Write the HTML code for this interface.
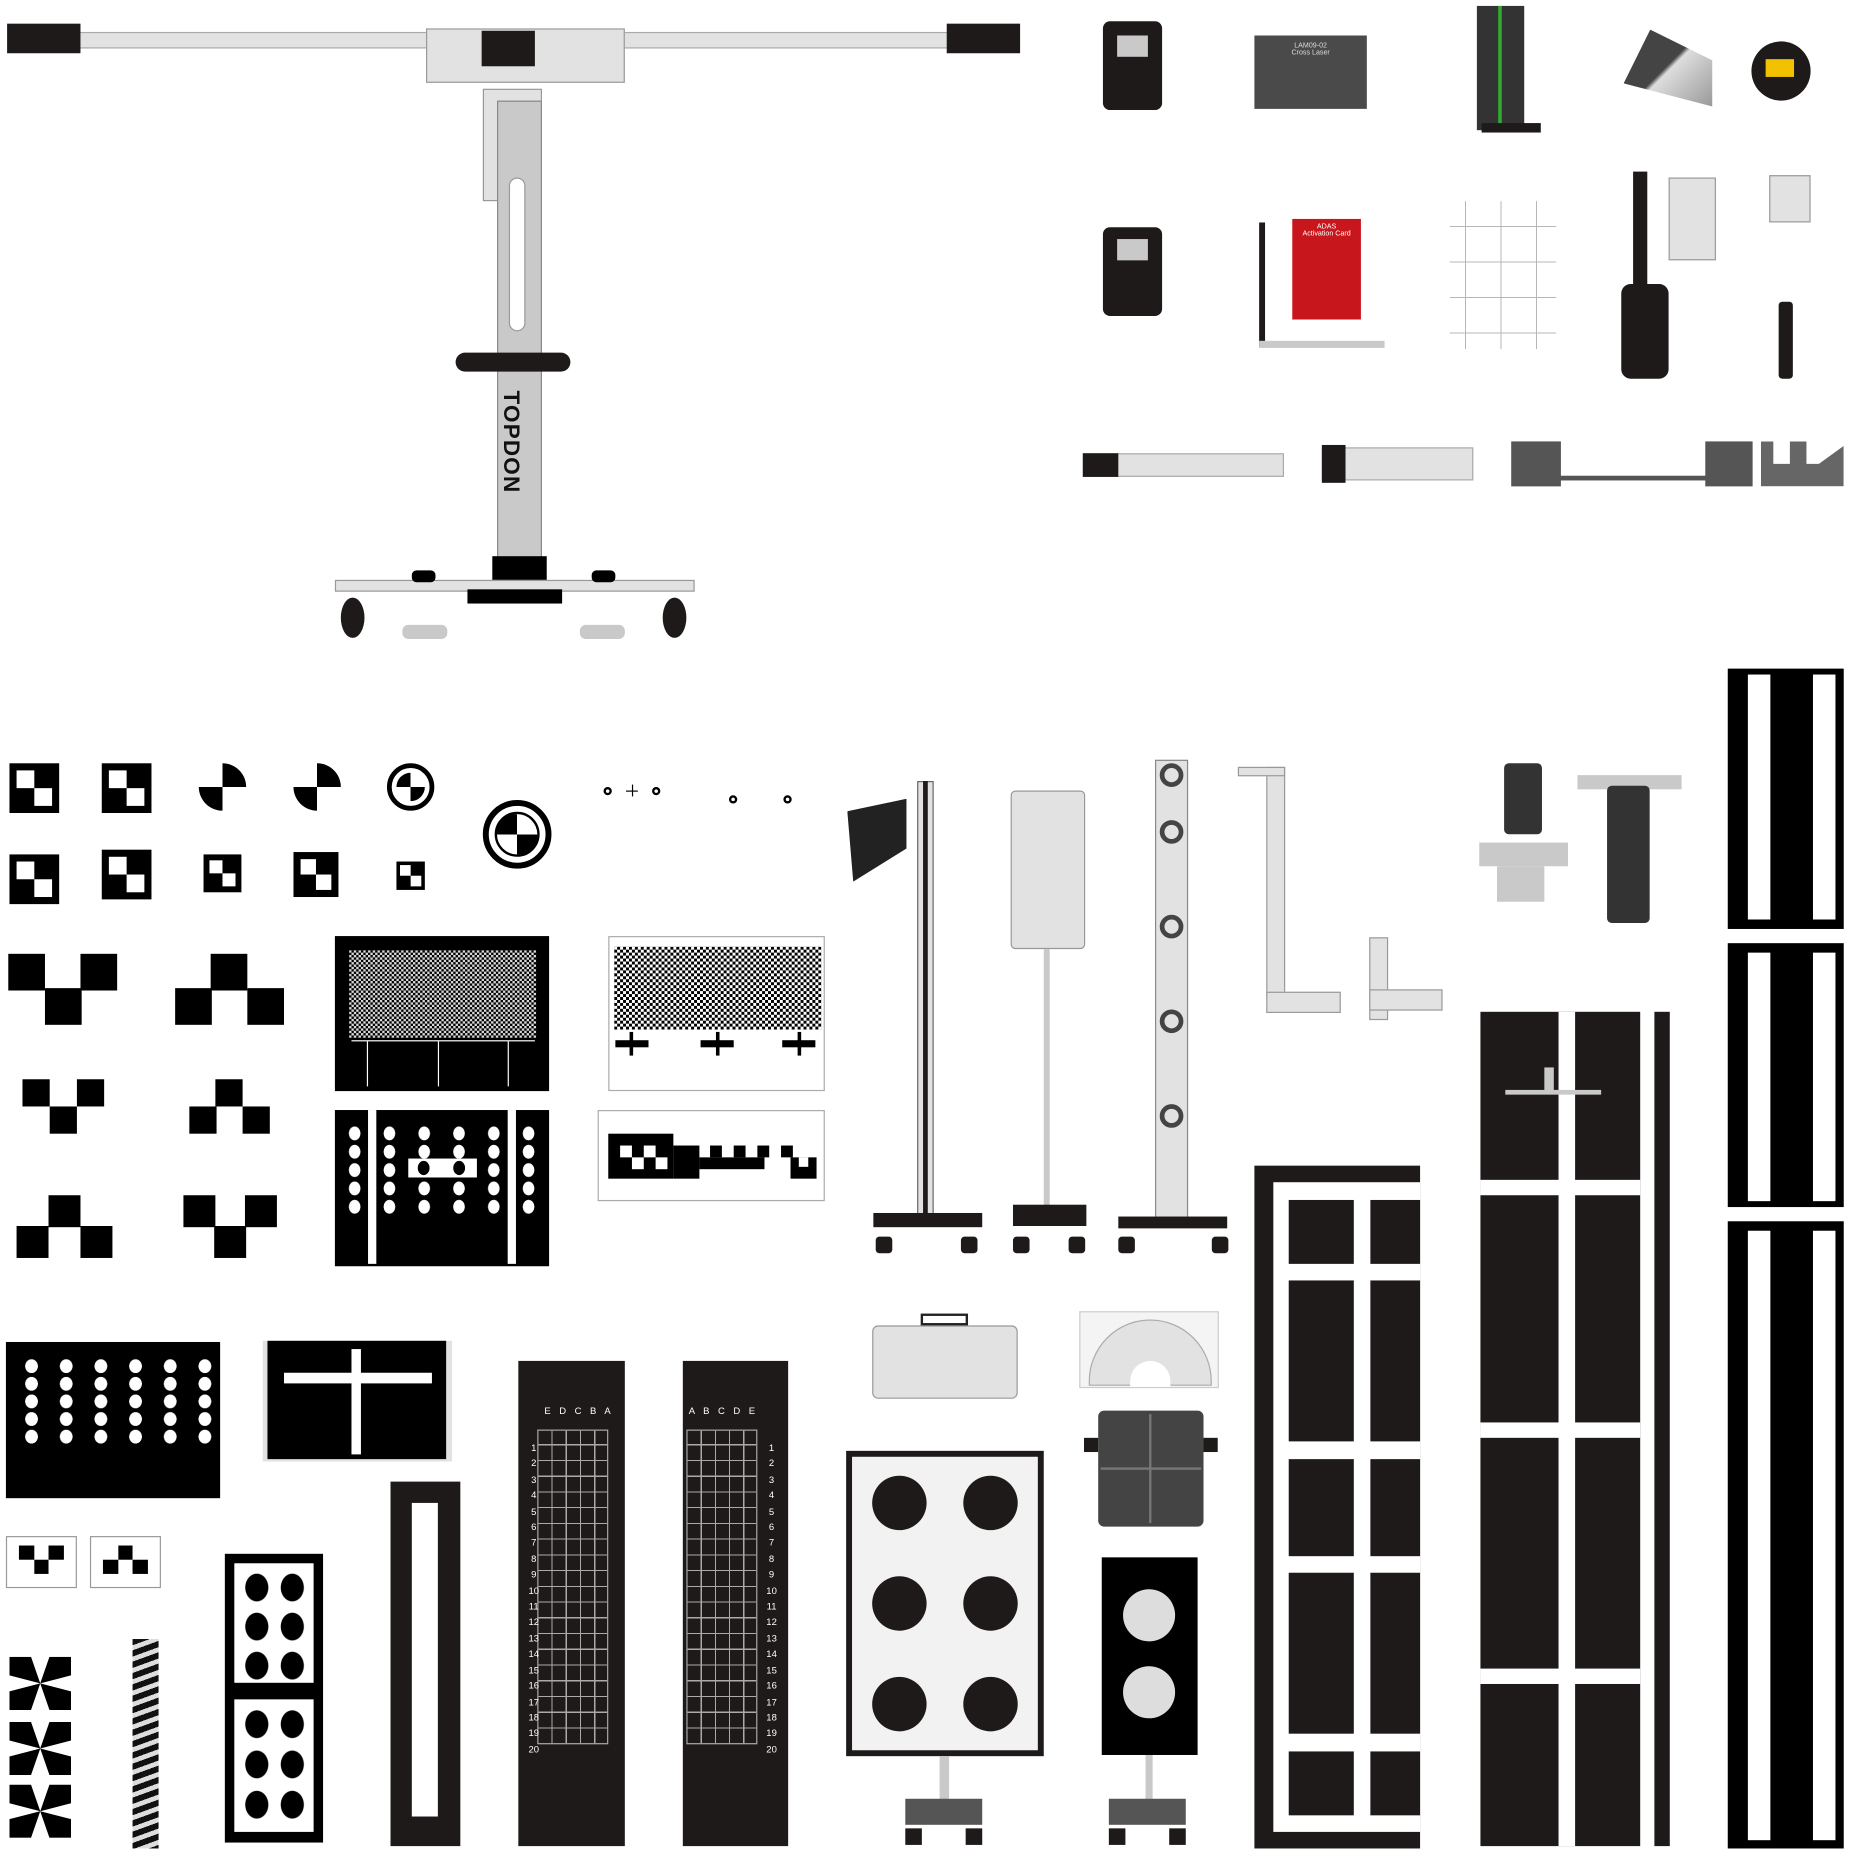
<!DOCTYPE html>
<html><head><meta charset="utf-8"><style>
html,body{margin:0;padding:0;background:#fff;overflow:hidden}
#w{position:absolute;left:0;top:0;width:1565px;height:1569px;transform:scale(1.1834);transform-origin:0 0;font-family:"Liberation Sans",sans-serif}
#w div{position:absolute;box-sizing:border-box}
.k{background:#000}.d{background:#1e1a1a}.g{background:#c9c9c9}.lg{background:#e2e2e2}.w{background:#fff}
.c{border-radius:50%}
.noise{background:repeating-conic-gradient(#000 0 25%,#fff 0 50%) 0 0/4px 4px}
.noise2{background:repeating-conic-gradient(#000 0 25%,#fff 0 50%) 0 0/5px 5px}
.q{border-radius:50%;background:conic-gradient(#000 0 25%,transparent 0 50%,#000 0 75%,transparent 0)}
</style></head><body><div id="w">

<!-- big stand -->
<div class="lg" style="left:60px;top:27px;width:750px;height:14px;border:1px solid #aaa"></div>
<div class="d" style="left:6px;top:20px;width:62px;height:25px"></div>
<div class="d" style="left:800px;top:20px;width:62px;height:25px"></div>
<div class="lg" style="left:360px;top:24px;width:168px;height:46px;border:1px solid #999"></div>
<div class="d" style="left:407px;top:26px;width:45px;height:30px"></div>
<div class="lg" style="left:408px;top:75px;width:50px;height:95px;border:1px solid #999"></div>
<div class="g" style="left:420px;top:85px;width:38px;height:405px;border:1px solid #888"></div>
<div class="w" style="left:430px;top:150px;width:14px;height:130px;border-radius:7px;border:1px solid #999"></div>
<div class="d" style="left:385px;top:298px;width:97px;height:16px;border-radius:8px"></div>
<div style="left:422px;top:330px;width:20px;height:120px;color:#111;font-weight:bold;font-size:19px;writing-mode:vertical-rl;letter-spacing:1px">TOPDON</div>
<div class="k" style="left:416px;top:470px;width:46px;height:38px"></div>
<div class="lg" style="left:283px;top:490px;width:304px;height:10px;border:1px solid #999"></div>
<div class="k" style="left:395px;top:498px;width:80px;height:12px"></div>
<div class="d c" style="left:288px;top:505px;width:20px;height:34px"></div>
<div class="d c" style="left:560px;top:505px;width:20px;height:34px"></div>
<div class="g" style="left:340px;top:528px;width:38px;height:12px;border-radius:5px"></div>
<div class="g" style="left:490px;top:528px;width:38px;height:12px;border-radius:5px"></div>
<div class="k" style="left:348px;top:482px;width:20px;height:10px;border-radius:4px"></div>
<div class="k" style="left:500px;top:482px;width:20px;height:10px;border-radius:4px"></div>

<!-- top right products -->
<div class="d" style="left:932px;top:18px;width:50px;height:75px;border-radius:6px"></div>
<div class="g" style="left:944px;top:30px;width:26px;height:18px"></div>
<div class="d" style="left:932px;top:192px;width:50px;height:75px;border-radius:6px"></div>
<div class="g" style="left:944px;top:202px;width:26px;height:18px"></div>
<div style="left:1060px;top:30px;width:95px;height:62px;background:#4a4a4a;color:#ddd;font-size:6px;text-align:center;padding-top:6px">LAM09-02<br>Cross Laser</div>
<div style="left:1248px;top:5px;width:40px;height:105px;background:#333"></div>
<div style="left:1266px;top:5px;width:3px;height:105px;background:#3a3"></div>
<div class="d" style="left:1252px;top:104px;width:50px;height:8px"></div>
<div style="left:1372px;top:25px;width:75px;height:65px;background:linear-gradient(135deg,#444 0 48%,#ddd 52%,#999);clip-path:polygon(30% 0,100% 40%,100% 100%,0 70%)"></div>
<div class="d c" style="left:1480px;top:35px;width:50px;height:50px"></div>
<div style="left:1492px;top:50px;width:24px;height:15px;background:#f2c200"></div>
<div style="left:1092px;top:185px;width:58px;height:85px;background:#c8161d;color:#fff;font-size:6px;text-align:center;padding-top:4px">ADAS<br>Activation Card</div>
<div class="d" style="left:1064px;top:188px;width:5px;height:105px"></div>
<div class="g" style="left:1064px;top:288px;width:106px;height:6px"></div>
<div style="left:1225px;top:170px;width:90px;height:125px;background:repeating-linear-gradient(90deg,transparent 0 13px,#888 13px 14px,transparent 14px 30px),repeating-linear-gradient(0deg,transparent 0 13px,#888 13px 14px,transparent 14px 30px);opacity:.6"></div>
<div class="d" style="left:1380px;top:145px;width:12px;height:150px"></div>
<div class="lg" style="left:1410px;top:150px;width:40px;height:70px;border:1px solid #999"></div>
<div class="d" style="left:1370px;top:240px;width:40px;height:80px;border-radius:8px"></div>
<div class="lg" style="left:1495px;top:148px;width:35px;height:40px;border:1px solid #999"></div>
<div class="d" style="left:1503px;top:255px;width:12px;height:65px;border-radius:3px"></div>
<div class="lg" style="left:915px;top:383px;width:170px;height:20px;border:1px solid #aaa"></div>
<div class="d" style="left:915px;top:383px;width:30px;height:20px"></div>
<div class="lg" style="left:1117px;top:378px;width:128px;height:28px;border:1px solid #aaa"></div>
<div class="d" style="left:1117px;top:376px;width:20px;height:32px"></div>
<div style="left:1277px;top:373px;width:42px;height:38px;background:#555"></div>
<div style="left:1318px;top:402px;width:125px;height:4px;background:#555"></div>
<div style="left:1441px;top:373px;width:40px;height:38px;background:#555"></div>
<div style="left:1488px;top:373px;width:70px;height:38px;background:#666;clip-path:polygon(0 0,15% 0,15% 50%,35% 50%,35% 0,55% 0,55% 50%,70% 50%,100% 10%,100% 100%,0 100%)"></div>

<!-- small checker targets -->
<div class="k" style="left:8px;top:645px;width:42px;height:42px"></div>
<div class="w" style="left:14px;top:651px;width:15px;height:15px"></div><div class="w" style="left:29px;top:666px;width:15px;height:15px"></div>
<div class="k" style="left:86px;top:645px;width:42px;height:42px"></div>
<div class="w" style="left:92px;top:651px;width:15px;height:15px"></div><div class="w" style="left:107px;top:666px;width:15px;height:15px"></div>
<div class="q" style="left:168px;top:645px;width:40px;height:40px"></div>
<div class="q" style="left:248px;top:645px;width:40px;height:40px"></div>
<div class="c" style="left:327px;top:645px;width:40px;height:40px;border:4px solid #000"></div>
<div class="c" style="left:335px;top:653px;width:24px;height:24px;background:conic-gradient(#fff 0 25%,#000 0 50%,#fff 0 75%,#000 0)"></div>
<div class="c" style="left:408px;top:676px;width:58px;height:58px;border:5px solid #000"></div>
<div class="c" style="left:418px;top:686px;width:38px;height:38px;background:conic-gradient(#fff 0 25%,#000 0 50%,#fff 0 75%,#000 0);border:2px solid #000"></div>
<div class="c" style="left:510px;top:665px;width:7px;height:7px;border:2px solid #000"></div>
<div class="c" style="left:551px;top:665px;width:7px;height:7px;border:2px solid #000"></div>
<div style="left:529px;top:668px;width:10px;height:1px;background:#000"></div><div style="left:534px;top:663px;width:1px;height:10px;background:#000"></div>
<div class="c" style="left:616px;top:672px;width:7px;height:7px;border:2px solid #000"></div>
<div class="c" style="left:662px;top:672px;width:7px;height:7px;border:2px solid #000"></div>
<div class="k" style="left:8px;top:722px;width:42px;height:42px"></div>
<div class="w" style="left:14px;top:728px;width:15px;height:15px"></div><div class="w" style="left:29px;top:743px;width:15px;height:15px"></div>
<div class="k" style="left:86px;top:718px;width:42px;height:42px"></div>
<div class="w" style="left:92px;top:724px;width:15px;height:15px"></div><div class="w" style="left:107px;top:739px;width:15px;height:15px"></div>
<div class="k" style="left:172px;top:722px;width:32px;height:32px"></div>
<div class="w" style="left:177px;top:727px;width:11px;height:11px"></div><div class="w" style="left:188px;top:738px;width:11px;height:11px"></div>
<div class="k" style="left:248px;top:720px;width:38px;height:38px"></div>
<div class="w" style="left:254px;top:726px;width:13px;height:13px"></div><div class="w" style="left:267px;top:739px;width:13px;height:13px"></div>
<div class="k" style="left:335px;top:728px;width:24px;height:24px"></div>
<div class="w" style="left:338px;top:731px;width:9px;height:9px"></div><div class="w" style="left:347px;top:740px;width:9px;height:9px"></div>

<!-- V checker patterns -->
<div class="k" style="left:7px;top:806px;width:31px;height:31px"></div><div class="k" style="left:68px;top:806px;width:31px;height:31px"></div><div class="k" style="left:38px;top:835px;width:31px;height:31px"></div>
<div class="k" style="left:178px;top:806px;width:31px;height:31px"></div><div class="k" style="left:148px;top:835px;width:31px;height:31px"></div><div class="k" style="left:209px;top:835px;width:31px;height:31px"></div>
<div class="k" style="left:19px;top:912px;width:23px;height:23px"></div><div class="k" style="left:65px;top:912px;width:23px;height:23px"></div><div class="k" style="left:42px;top:935px;width:23px;height:23px"></div>
<div class="k" style="left:182px;top:912px;width:23px;height:23px"></div><div class="k" style="left:160px;top:935px;width:23px;height:23px"></div><div class="k" style="left:205px;top:935px;width:23px;height:23px"></div>
<div class="k" style="left:41px;top:1010px;width:27px;height:27px"></div><div class="k" style="left:14px;top:1036px;width:27px;height:27px"></div><div class="k" style="left:68px;top:1036px;width:27px;height:27px"></div>
<div class="k" style="left:155px;top:1010px;width:27px;height:27px"></div><div class="k" style="left:207px;top:1010px;width:27px;height:27px"></div><div class="k" style="left:181px;top:1036px;width:27px;height:27px"></div>

<!-- noise targets -->
<div class="k" style="left:283px;top:791px;width:181px;height:131px"></div>
<div class="noise" style="left:295px;top:803px;width:158px;height:74px;opacity:.85"></div>
<div class="w" style="left:297px;top:879px;width:155px;height:1px"></div>
<div class="w" style="left:310px;top:880px;width:1px;height:38px"></div><div class="w" style="left:370px;top:880px;width:1px;height:38px"></div><div class="w" style="left:429px;top:880px;width:1px;height:38px"></div>
<div style="left:514px;top:791px;width:183px;height:131px;border:1px solid #aaa"></div>
<div class="noise2" style="left:519px;top:800px;width:175px;height:70px"></div>
<div class="k" style="left:520px;top:879px;width:28px;height:6px"></div><div class="k" style="left:532px;top:872px;width:3px;height:20px"></div>
<div class="k" style="left:592px;top:879px;width:28px;height:6px"></div><div class="k" style="left:605px;top:872px;width:3px;height:20px"></div>
<div class="k" style="left:661px;top:879px;width:28px;height:6px"></div><div class="k" style="left:674px;top:872px;width:3px;height:20px"></div>

<!-- dot target -->
<div class="k" style="left:283px;top:938px;width:181px;height:132px"></div>
<div class="w" style="left:311px;top:938px;width:7px;height:130px"></div>
<div class="w" style="left:429px;top:938px;width:7px;height:130px"></div>
<div style="left:285px;top:950px;width:177px;height:78px;background:radial-gradient(ellipse 5px 6px at 50% 50%,#fff 95%,transparent 100%) 0 0/29.4px 15.5px"></div>
<div class="w" style="left:345px;top:979px;width:58px;height:16px"></div>
<div class="k c" style="left:353px;top:981px;width:10px;height:12px"></div>
<div class="k c" style="left:383px;top:981px;width:10px;height:12px"></div>

<!-- checker strip -->
<div style="left:505px;top:938px;width:192px;height:77px;border:1px solid #aaa"></div>
<div class="k" style="left:514px;top:958px;width:55px;height:38px"></div>
<div class="k" style="left:569px;top:968px;width:22px;height:28px"></div>
<div class="k" style="left:591px;top:978px;width:55px;height:10px"></div>
<div class="k" style="left:600px;top:968px;width:10px;height:10px"></div><div class="k" style="left:620px;top:968px;width:10px;height:10px"></div><div class="k" style="left:640px;top:968px;width:10px;height:10px"></div><div class="k" style="left:660px;top:968px;width:10px;height:10px"></div>
<div class="k" style="left:668px;top:978px;width:22px;height:18px"></div>
<div class="w" style="left:524px;top:968px;width:10px;height:10px"></div><div class="w" style="left:544px;top:968px;width:10px;height:10px"></div><div class="w" style="left:534px;top:978px;width:10px;height:10px"></div><div class="w" style="left:554px;top:978px;width:10px;height:10px"></div><div class="w" style="left:675px;top:978px;width:8px;height:8px"></div>

<!-- stands -->
<div style="left:716px;top:675px;width:50px;height:70px;background:#222;clip-path:polygon(0 15%,100% 0,100% 60%,10% 100%)"></div>
<div class="lg" style="left:775px;top:660px;width:14px;height:370px;border:1px solid #666"></div>
<div class="d" style="left:780px;top:660px;width:4px;height:370px"></div>
<div class="d" style="left:738px;top:1025px;width:92px;height:12px"></div>
<div class="d" style="left:740px;top:1045px;width:14px;height:14px;border-radius:3px"></div><div class="d" style="left:812px;top:1045px;width:14px;height:14px;border-radius:3px"></div>
<div class="lg" style="left:854px;top:668px;width:63px;height:134px;border:1px solid #999;border-radius:4px"></div>
<div class="g" style="left:882px;top:802px;width:5px;height:220px"></div>
<div class="d" style="left:856px;top:1018px;width:62px;height:18px"></div>
<div class="d" style="left:856px;top:1045px;width:14px;height:14px;border-radius:3px"></div><div class="d" style="left:903px;top:1045px;width:14px;height:14px;border-radius:3px"></div>
<div class="lg" style="left:976px;top:642px;width:28px;height:392px;border:1px solid #888"></div>
<div class="c" style="left:980px;top:645px;width:20px;height:20px;border:4px solid #444"></div>
<div class="c" style="left:980px;top:693px;width:20px;height:20px;border:4px solid #444"></div>
<div class="c" style="left:980px;top:773px;width:20px;height:20px;border:4px solid #444"></div>
<div class="c" style="left:980px;top:853px;width:20px;height:20px;border:4px solid #444"></div>
<div class="c" style="left:980px;top:933px;width:20px;height:20px;border:4px solid #444"></div>
<div class="d" style="left:945px;top:1028px;width:92px;height:10px"></div>
<div class="d" style="left:945px;top:1045px;width:14px;height:14px;border-radius:3px"></div><div class="d" style="left:1024px;top:1045px;width:14px;height:14px;border-radius:3px"></div>

<!-- L brackets -->
<div class="lg" style="left:1070px;top:648px;width:16px;height:195px;border:1px solid #999"></div>
<div class="lg" style="left:1046px;top:648px;width:40px;height:8px;border:1px solid #999"></div>
<div class="lg" style="left:1070px;top:838px;width:63px;height:18px;border:1px solid #999"></div>
<div class="lg" style="left:1157px;top:792px;width:16px;height:70px;border:1px solid #999"></div>
<div class="lg" style="left:1157px;top:836px;width:62px;height:18px;border:1px solid #999"></div>
<!-- grills -->
<div style="left:1271px;top:645px;width:32px;height:60px;background:#333;border-radius:4px"></div>
<div class="g" style="left:1250px;top:712px;width:75px;height:20px"></div>
<div class="g" style="left:1265px;top:732px;width:40px;height:30px"></div>
<div class="g" style="left:1333px;top:655px;width:88px;height:12px"></div>
<div style="left:1358px;top:664px;width:36px;height:116px;background:#333;border-radius:4px"></div>

<!-- right strips -->
<div class="k" style="left:1460px;top:565px;width:98px;height:220px"></div>
<div class="w" style="left:1477px;top:570px;width:19px;height:207px"></div><div class="w" style="left:1532px;top:570px;width:19px;height:207px"></div>
<div class="k" style="left:1460px;top:797px;width:98px;height:223px"></div>
<div class="w" style="left:1477px;top:805px;width:19px;height:210px"></div><div class="w" style="left:1532px;top:805px;width:19px;height:210px"></div>
<div class="k" style="left:1460px;top:1032px;width:98px;height:530px"></div>
<div class="w" style="left:1477px;top:1040px;width:19px;height:515px"></div><div class="w" style="left:1532px;top:1040px;width:19px;height:515px"></div>

<!-- column 2 -->
<div class="d" style="left:1251px;top:855px;width:135px;height:705px"></div>
<div class="w" style="left:1317px;top:855px;width:14px;height:705px"></div>
<div class="w" style="left:1251px;top:997px;width:135px;height:13px"></div>
<div class="w" style="left:1251px;top:1202px;width:135px;height:13px"></div>
<div class="w" style="left:1251px;top:1410px;width:135px;height:13px"></div>
<div class="d" style="left:1398px;top:855px;width:13px;height:705px"></div>
<div class="g" style="left:1272px;top:921px;width:81px;height:4px"></div>
<div class="g" style="left:1305px;top:902px;width:8px;height:20px"></div>

<!-- column 3 -->
<div class="d" style="left:1060px;top:985px;width:140px;height:577px"></div>
<div class="w" style="left:1076px;top:999px;width:124px;height:549px"></div>
<div class="d" style="left:1089px;top:1014px;width:55px;height:54px"></div><div class="d" style="left:1158px;top:1014px;width:42px;height:54px"></div>
<div class="d" style="left:1089px;top:1082px;width:55px;height:136px"></div><div class="d" style="left:1158px;top:1082px;width:42px;height:136px"></div>
<div class="d" style="left:1089px;top:1233px;width:55px;height:82px"></div><div class="d" style="left:1158px;top:1233px;width:42px;height:82px"></div>
<div class="d" style="left:1089px;top:1329px;width:55px;height:136px"></div><div class="d" style="left:1158px;top:1329px;width:42px;height:136px"></div>
<div class="d" style="left:1089px;top:1480px;width:55px;height:54px"></div><div class="d" style="left:1158px;top:1480px;width:42px;height:54px"></div>

<!-- bottom-left boards -->
<div class="k" style="left:5px;top:1134px;width:181px;height:132px"></div>
<div style="left:12px;top:1147px;width:174px;height:75px;background:radial-gradient(ellipse 5.5px 6px at 50% 50%,#fff 95%,transparent 100%) 0 0/29.3px 14.9px"></div>
<div class="lg" style="left:222px;top:1133px;width:160px;height:102px"></div>
<div class="k" style="left:226px;top:1133px;width:151px;height:100px"></div>
<div class="w" style="left:240px;top:1160px;width:125px;height:9px"></div>
<div class="w" style="left:297px;top:1140px;width:8px;height:89px"></div>

<div style="left:5px;top:1298px;width:60px;height:44px;border:1px solid #999"></div>
<div class="k" style="left:16px;top:1306px;width:13px;height:12px"></div><div class="k" style="left:41px;top:1306px;width:13px;height:12px"></div><div class="k" style="left:29px;top:1318px;width:12px;height:12px"></div>
<div style="left:76px;top:1298px;width:60px;height:44px;border:1px solid #999"></div>
<div class="k" style="left:100px;top:1306px;width:12px;height:12px"></div><div class="k" style="left:87px;top:1318px;width:13px;height:12px"></div><div class="k" style="left:112px;top:1318px;width:13px;height:12px"></div>

<div class="k" style="left:8px;top:1400px;width:52px;height:45px;clip-path:polygon(0 0,35% 0,50% 50%,65% 0,100% 0,100% 35%,50% 50%,100% 65%,100% 100%,65% 100%,50% 50%,35% 100%,0 100%,0 65%,50% 50%,0 35%)"></div>
<div class="k" style="left:8px;top:1455px;width:52px;height:45px;clip-path:polygon(0 0,35% 0,50% 50%,65% 0,100% 0,100% 35%,50% 50%,100% 65%,100% 100%,65% 100%,50% 50%,35% 100%,0 100%,0 65%,50% 50%,0 35%)"></div>
<div class="k" style="left:8px;top:1508px;width:52px;height:45px;clip-path:polygon(0 0,35% 0,50% 50%,65% 0,100% 0,100% 35%,50% 50%,100% 65%,100% 100%,65% 100%,50% 50%,35% 100%,0 100%,0 65%,50% 50%,0 35%)"></div>
<div style="left:112px;top:1385px;width:22px;height:177px;background:repeating-linear-gradient(160deg,#111 0 5px,#ddd 5px 9px)"></div>

<div class="k" style="left:190px;top:1313px;width:83px;height:244px"></div>
<div class="w" style="left:198px;top:1321px;width:67px;height:101px"></div>
<div class="w" style="left:198px;top:1436px;width:67px;height:112px"></div>
<div style="left:202px;top:1325px;width:60px;height:100px;background:radial-gradient(ellipse 10px 12px at 50% 50%,#000 95%,transparent 100%) 0 0/30px 33px"></div>
<div style="left:202px;top:1440px;width:60px;height:105px;background:radial-gradient(ellipse 10px 12px at 50% 50%,#000 95%,transparent 100%) 0 0/30px 34px"></div>

<div class="d" style="left:330px;top:1252px;width:59px;height:308px"></div>
<div class="w" style="left:348px;top:1270px;width:22px;height:265px"></div>

<!-- grid charts -->
<div class="d" style="left:438px;top:1150px;width:90px;height:410px"></div>
<div style="left:454px;top:1208px;width:60px;height:266px;border:1px solid #aaa;background:repeating-linear-gradient(90deg,transparent 0 11px,#aaa 11px 12px),repeating-linear-gradient(0deg,transparent 0 12.3px,#aaa 12.3px 13.3px)"></div>
<div class="d" style="left:577px;top:1150px;width:89px;height:410px"></div>
<div style="left:580px;top:1208px;width:60px;height:266px;border:1px solid #aaa;background:repeating-linear-gradient(90deg,transparent 0 11px,#aaa 11px 12px),repeating-linear-gradient(0deg,transparent 0 12.3px,#aaa 12.3px 13.3px)"></div>
<div style="left:460px;top:1188px;width:65px;color:#fff;font-size:8px;word-spacing:5px">E D C B A</div>
<div style="left:582px;top:1188px;width:65px;color:#fff;font-size:8px;word-spacing:5px">A B C D E</div>
<div style="left:445px;top:1217px;width:12px;color:#fff;font-size:8px;line-height:13.4px;text-align:center">1<br>2<br>3<br>4<br>5<br>6<br>7<br>8<br>9<br>10<br>11<br>12<br>13<br>14<br>15<br>16<br>17<br>18<br>19<br>20</div>
<div style="left:646px;top:1217px;width:12px;color:#fff;font-size:8px;line-height:13.4px;text-align:center">1<br>2<br>3<br>4<br>5<br>6<br>7<br>8<br>9<br>10<br>11<br>12<br>13<br>14<br>15<br>16<br>17<br>18<br>19<br>20</div>

<!-- circle target -->
<div class="lg" style="left:737px;top:1120px;width:123px;height:62px;border:1px solid #999;border-radius:5px"></div>
<div style="left:778px;top:1110px;width:40px;height:10px;border:2px solid #222"></div>
<div class="d" style="left:715px;top:1226px;width:167px;height:258px"></div>
<div style="left:720px;top:1231px;width:157px;height:248px;background:#f2f2f2"></div>
<div class="d c" style="left:737px;top:1247px;width:46px;height:46px"></div><div class="d c" style="left:814px;top:1247px;width:46px;height:46px"></div>
<div class="d c" style="left:737px;top:1332px;width:46px;height:46px"></div><div class="d c" style="left:814px;top:1332px;width:46px;height:46px"></div>
<div class="d c" style="left:737px;top:1417px;width:46px;height:46px"></div><div class="d c" style="left:814px;top:1417px;width:46px;height:46px"></div>
<div class="g" style="left:794px;top:1484px;width:8px;height:40px"></div>
<div style="left:765px;top:1520px;width:65px;height:22px;background:#555"></div>
<div class="d" style="left:765px;top:1545px;width:14px;height:14px"></div><div class="d" style="left:816px;top:1545px;width:14px;height:14px"></div>

<div style="left:912px;top:1108px;width:118px;height:65px;border:1px solid #ccc;background:#f4f4f4"></div>
<div class="lg" style="left:920px;top:1115px;width:104px;height:56px;border-radius:52px 52px 0 0;border:1px solid #aaa"></div>
<div class="w" style="left:955px;top:1150px;width:34px;height:22px;border-radius:17px 17px 0 0"></div>
<div style="left:928px;top:1192px;width:89px;height:98px;background:#444;border-radius:5px"></div>
<div style="left:971px;top:1195px;width:2px;height:92px;background:#777"></div>
<div style="left:930px;top:1240px;width:85px;height:2px;background:#777"></div>
<div class="d" style="left:916px;top:1215px;width:12px;height:12px"></div><div class="d" style="left:1017px;top:1215px;width:12px;height:12px"></div>
<div class="k" style="left:931px;top:1316px;width:81px;height:167px"></div>
<div class="c" style="left:949px;top:1343px;width:44px;height:44px;background:#ddd"></div>
<div class="c" style="left:949px;top:1408px;width:44px;height:44px;background:#ddd"></div>
<div class="g" style="left:968px;top:1483px;width:6px;height:40px"></div>
<div style="left:937px;top:1520px;width:65px;height:22px;background:#555"></div>
<div class="d" style="left:937px;top:1545px;width:14px;height:14px"></div><div class="d" style="left:988px;top:1545px;width:14px;height:14px"></div>

</div></body></html>
